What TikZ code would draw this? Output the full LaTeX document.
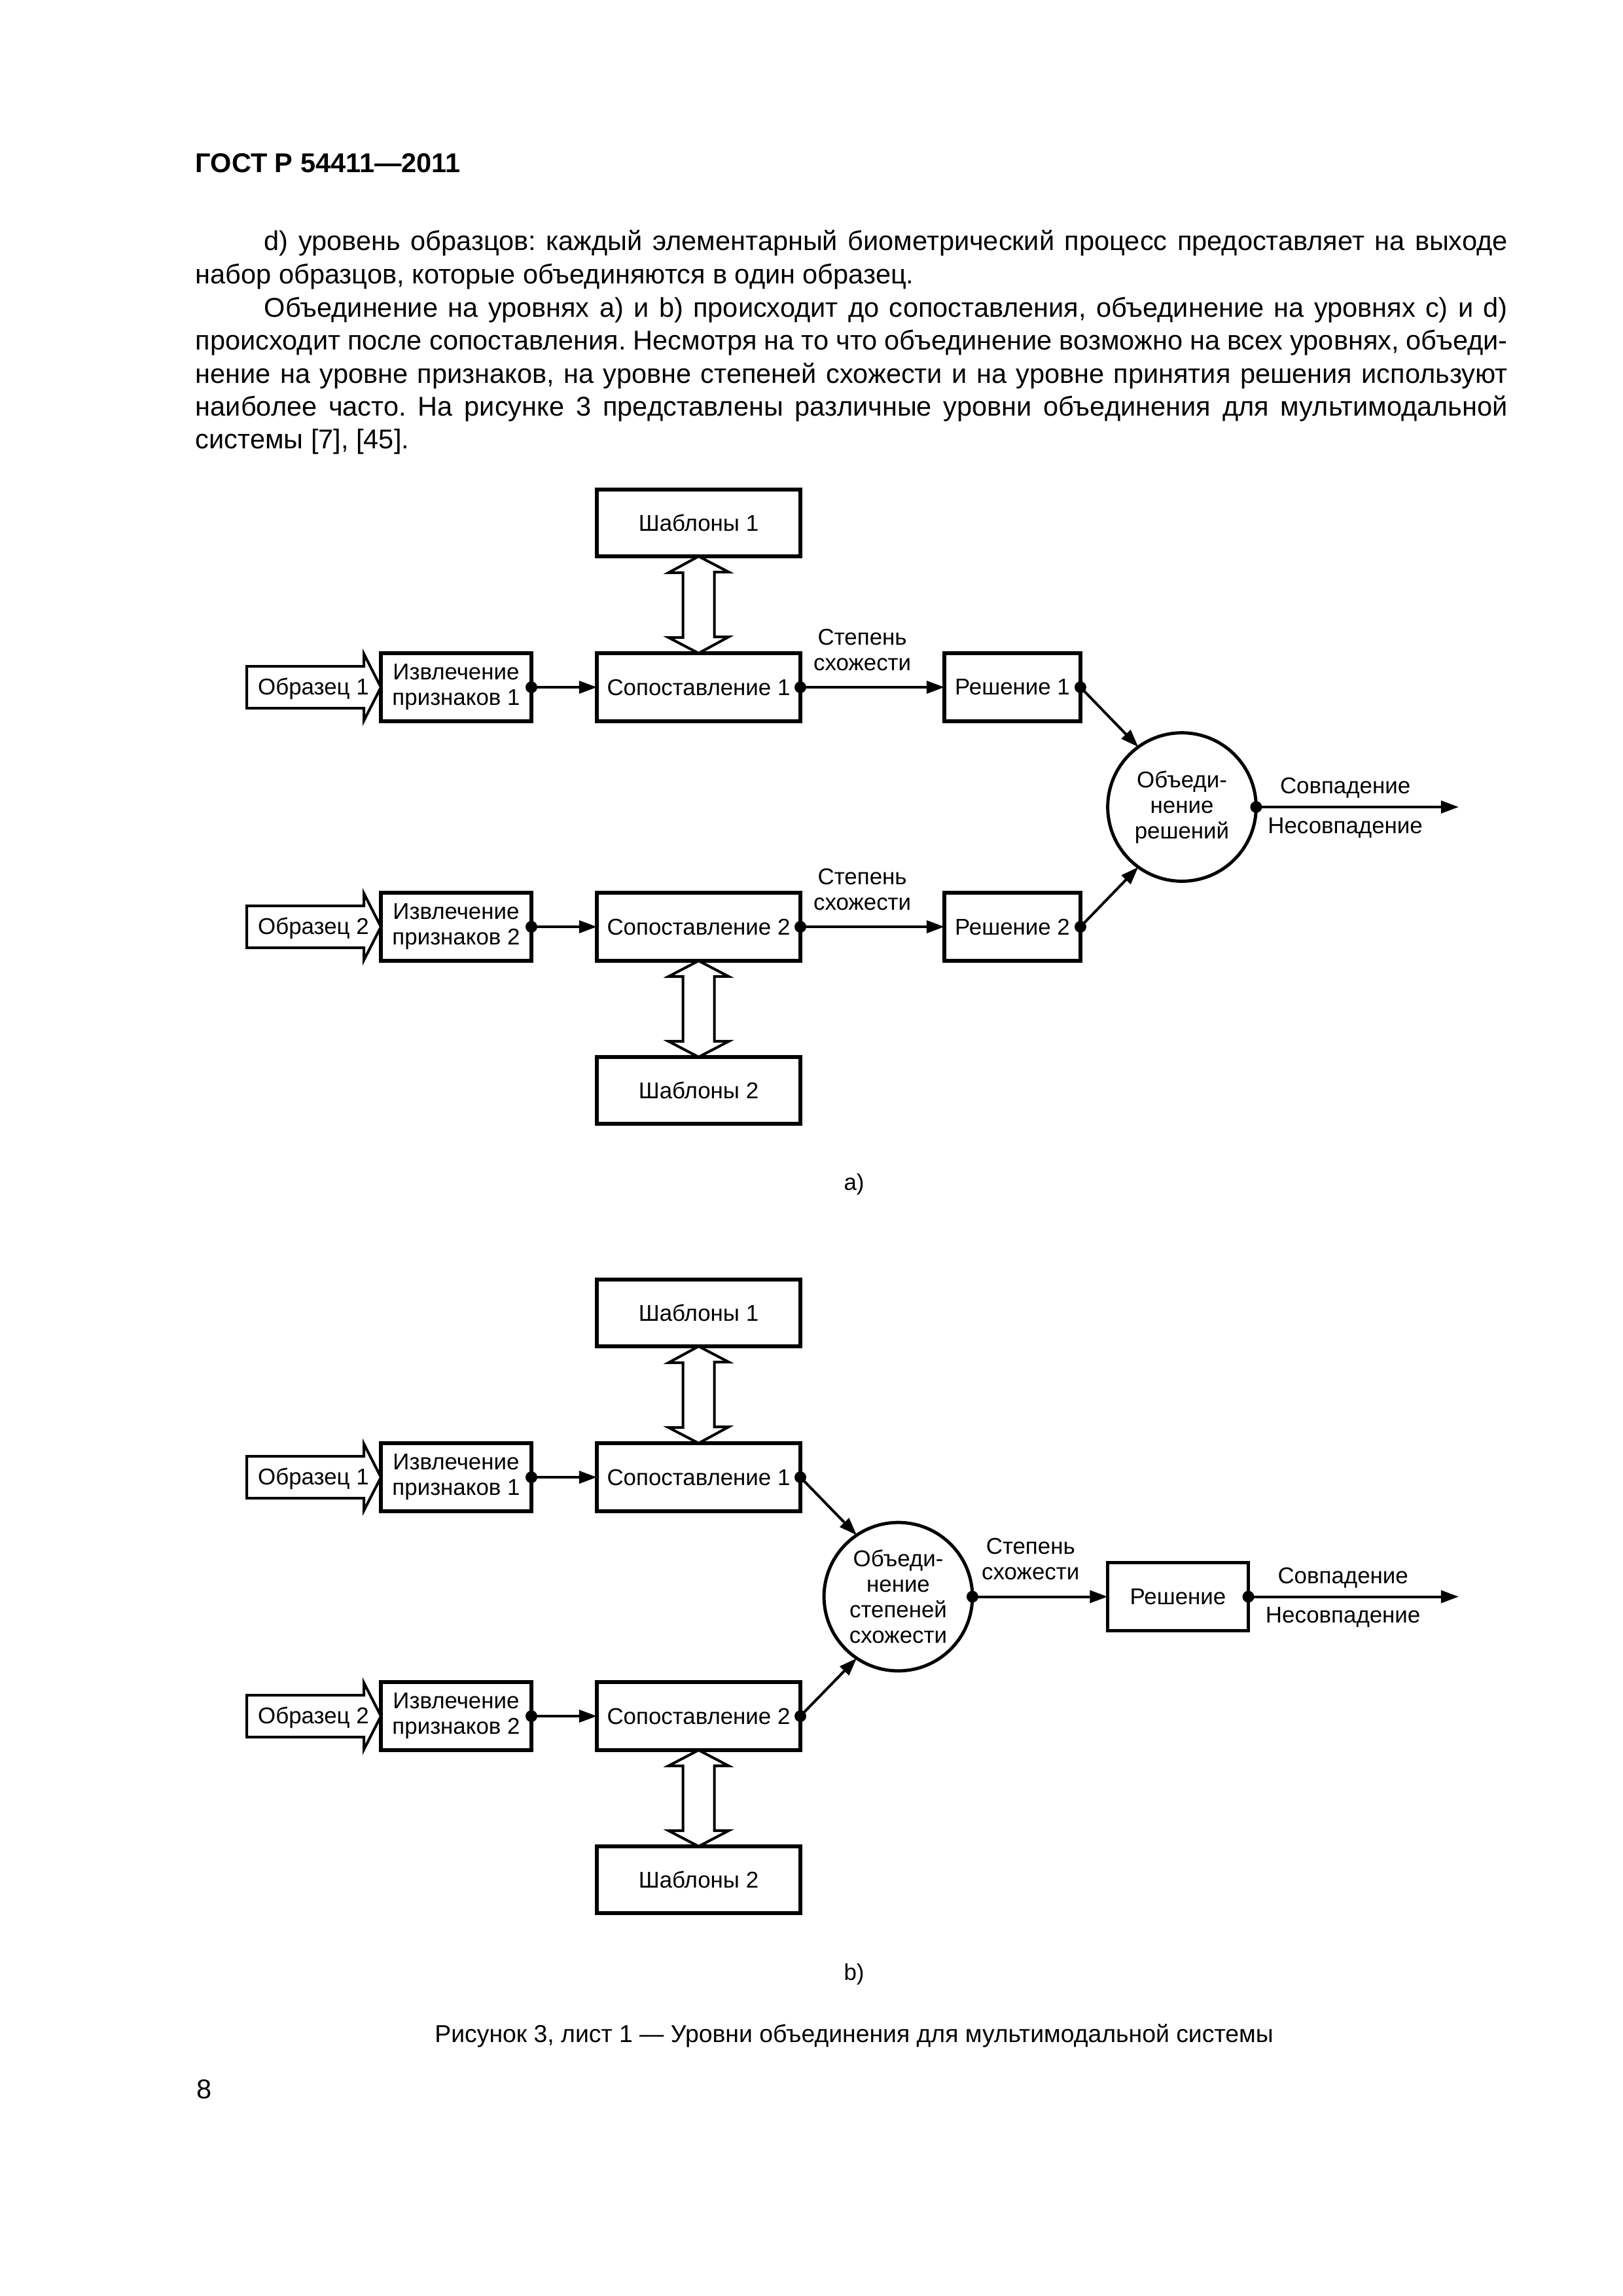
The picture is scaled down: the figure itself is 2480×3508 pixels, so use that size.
\documentclass[tikz,border=0pt]{standalone}
\usepackage{fontspec}
\setmainfont{Liberation Sans}
\usetikzlibrary{arrows.meta}
\frenchspacing

\tikzset{
	box/.style={rectangle, draw, line width=0.45mm, minimum height=8.8mm, inner sep=1pt, outer sep=0pt, font=\fontsize{8.4}{9.4}\selectfont, align=center},
	fusion/.style={circle, draw, line width=0.42mm, minimum size=19.2mm, inner sep=0pt, outer sep=0pt, font=\fontsize{8.4}{9.4}\selectfont, align=center},
	conn/.style={line width=0.34mm, -{Triangle[length=2.3mm,width=1.6mm]}},
	hollow/.style={draw, line width=0.34mm, fill=white, line join=miter},
	lbl/.style={inner sep=0pt, font=\fontsize{8.4}{9.4}\selectfont, align=center},
	bodytxt/.style={inner sep=0pt, anchor=base west, font=\fontsize{10}{12}\selectfont},
}

\begin{document}
\begin{tikzpicture}[x=0.084667mm, y=-0.084667mm]
	\fill[white] (0,0) rectangle (2480,3508);

	% page text
	\node[bodytxt, font=\fontsize{10}{12}\bfseries\selectfont] (headTxt) at (298,263) {ГОСТ Р 54411—2011};
	\node[bodytxt] (par1Line1) at (403,382) {\makebox[160.87mm][s]{d) уровень образцов: каждый элементарный биометрический процесс предоставляет на выходе}};
	\node[bodytxt] (par1Line2) at (298,433) {набор образцов, которые объединяются в один образец.};
	\node[bodytxt] (par2Line1) at (403,484) {\makebox[160.87mm][s]{Объединение на уровнях a) и b) происходит до сопоставления, объединение на уровнях c) и d)}};
	\node[bodytxt] (par2Line2) at (298,534) {\makebox[169.76mm][s]{происходит после сопоставления. Несмотря на то что объединение возможно на всех уровнях, объеди-}};
	\node[bodytxt] (par2Line3) at (298,585) {\makebox[169.76mm][s]{нение на уровне признаков, на уровне степеней схожести и на уровне принятия решения используют}};
	\node[bodytxt] (par2Line4) at (298,635) {\makebox[169.76mm][s]{наиболее часто. На рисунке 3 представлены различные уровни объединения для мультимодальной}};
	\node[bodytxt] (par2Line5) at (298,685) {системы [7], [45].};

	% a) decision level
	\node[box, minimum width=26.33mm, minimum height=8.64mm] (tmplA1Box) at (1067.5,799) {Шаблоны 1};
	\node[box, minimum width=19.47mm] (extrA1Box)  at (697,1050)    {Извлечение\\признаков 1};
	\node[box, minimum width=26.33mm] (matchA1Box) at (1067.5,1050) {Сопоставление 1};
	\node[box, minimum width=17.6mm]  (decA1Box)   at (1547,1050)   {Решение 1};
	\node[box, minimum width=19.47mm] (extrA2Box)  at (697,1416)    {Извлечение\\признаков 2};
	\node[box, minimum width=26.33mm] (matchA2Box) at (1067.5,1416) {Сопоставление 2};
	\node[box, minimum width=17.6mm]  (decA2Box)   at (1547,1416)   {Решение 2};
	\node[box, minimum width=26.33mm, minimum height=8.64mm] (tmplA2Box) at (1067.5,1666) {Шаблоны 2};
	\node[fusion] (fusACirc) at (1806,1233) {Объеди-\\нение\\решений};
	\coordinate (outA) at (2229,1233);

	\draw[hollow] (extrA1Box.west) -- ++(-26,-51) -- ++(0,19) -- ++(-179,0) -- ++(0,64) -- ++(179,0) -- ++(0,19) -- cycle;
	\draw[hollow] (extrA2Box.west) -- ++(-26,-51) -- ++(0,19) -- ++(-179,0) -- ++(0,64) -- ++(179,0) -- ++(0,19) -- cycle;
	\node[lbl] (smpA1) at (479,1052) {Образец 1};
	\node[lbl] (smpA2) at (479,1418) {Образец 2};

	\draw[hollow] (tmplA1Box.south) -- ++(46,24) -- ++(-22,0) -- ++(0,99) -- ++(22,0) -- (matchA1Box.north) -- ++(-46,-24) -- ++(22,0) -- ++(0,-99) -- ++(-22,0) -- cycle;
	\draw[hollow] (matchA2Box.south) -- ++(46,24) -- ++(-22,0) -- ++(0,99) -- ++(22,0) -- (tmplA2Box.north) -- ++(-46,-24) -- ++(22,0) -- ++(0,-99) -- ++(-22,0) -- cycle;

	\fill (matchA1Box.east) circle[radius=0.76mm];
	\draw[conn] (matchA1Box.east) -- node[lbl, pos=0.43, anchor=south, yshift=2mm] {Степень\\схожести} (decA1Box.west);
	\fill (matchA2Box.east) circle[radius=0.76mm];
	\draw[conn] (matchA2Box.east) -- node[lbl, pos=0.43, anchor=south, yshift=2mm] {Степень\\схожести} (decA2Box.west);
	\fill (decA1Box.east) circle[radius=0.76mm];
	\draw[conn] (decA1Box.east) -- (fusACirc.126);
	\fill (decA2Box.east) circle[radius=0.76mm];
	\draw[conn] (decA2Box.east) -- (fusACirc.234);
	\fill (fusACirc.east) circle[radius=0.76mm];
	\draw[conn] (fusACirc.east) -- node[lbl, pos=0.44, anchor=base, yshift=1.7mm] {Совпадение} node[lbl, pos=0.44, anchor=base, yshift=-3.4mm] {Несовпадение} (outA);

	\node[lbl, anchor=base] (capA) at (1305,1818) {a)};

	% b) score level
	\node[box, minimum width=26.33mm, minimum height=8.64mm] (tmplB1Box) at (1067.5,2006) {Шаблоны 1};
	\node[box, minimum width=19.47mm] (extrB1Box)  at (697,2257)    {Извлечение\\признаков 1};
	\node[box, minimum width=26.33mm] (matchB1Box) at (1067.5,2257) {Сопоставление 1};
	\node[box, minimum width=19.47mm] (extrB2Box)  at (697,2622)    {Извлечение\\признаков 2};
	\node[box, minimum width=26.33mm] (matchB2Box) at (1067.5,2622) {Сопоставление 2};
	\node[box, minimum width=26.33mm, minimum height=8.64mm] (tmplB2Box) at (1067.5,2872) {Шаблоны 2};
	\node[fusion] (fusBCirc) at (1372.5,2439.5) {Объеди-\\нение\\степеней\\схожести};
	\node[box, minimum width=18.2mm]  (decBBox)    at (1800,2439.5) {Решение};
	\coordinate (outB) at (2229,2439.5);

	\draw[hollow] (extrB1Box.west) -- ++(-26,-51) -- ++(0,19) -- ++(-179,0) -- ++(0,64) -- ++(179,0) -- ++(0,19) -- cycle;
	\draw[hollow] (extrB2Box.west) -- ++(-26,-51) -- ++(0,19) -- ++(-179,0) -- ++(0,64) -- ++(179,0) -- ++(0,19) -- cycle;
	\node[lbl] (smpB1) at (479,2259) {Образец 1};
	\node[lbl] (smpB2) at (479,2624) {Образец 2};

	\draw[hollow] (tmplB1Box.south) -- ++(46,24) -- ++(-22,0) -- ++(0,99) -- ++(22,0) -- (matchB1Box.north) -- ++(-46,-24) -- ++(22,0) -- ++(0,-99) -- ++(-22,0) -- cycle;
	\draw[hollow] (matchB2Box.south) -- ++(46,24) -- ++(-22,0) -- ++(0,99) -- ++(22,0) -- (tmplB2Box.north) -- ++(-46,-24) -- ++(22,0) -- ++(0,-99) -- ++(-22,0) -- cycle;

	\fill (matchB1Box.east) circle[radius=0.76mm];
	\draw[conn] (matchB1Box.east) -- (fusBCirc.124);
	\fill (matchB2Box.east) circle[radius=0.76mm];
	\draw[conn] (matchB2Box.east) -- (fusBCirc.236);
	\fill (fusBCirc.east) circle[radius=0.76mm];
	\draw[conn] (fusBCirc.east) -- node[lbl, pos=0.43, anchor=south, yshift=2mm] {Степень\\схожести} (decBBox.west);
	\fill (decBBox.east) circle[radius=0.76mm];
	\draw[conn] (decBBox.east) -- node[lbl, pos=0.45, anchor=base, yshift=1.7mm] {Совпадение} node[lbl, pos=0.45, anchor=base, yshift=-3.4mm] {Несовпадение} (outB);

	% feature -> matching, both parts
	\foreach \src/\dst in {extrA1Box/matchA1Box, extrA2Box/matchA2Box, extrB1Box/matchB1Box, extrB2Box/matchB2Box}
	{
		\fill (\src.east) circle[radius=0.76mm];
		\draw[conn] (\src.east) -- (\dst.west);
	}

	\node[lbl, anchor=base] (capB) at (1305,3025) {b)};
	\node[bodytxt, anchor=base, font=\fontsize{9}{11}\selectfont] (figCaption) at (1305,3120) {Рисунок 3, лист 1 — Уровни объединения для мультимодальной системы};
	\node[bodytxt] (pageNum) at (300,3206) {8};
\end{tikzpicture}
\end{document}
